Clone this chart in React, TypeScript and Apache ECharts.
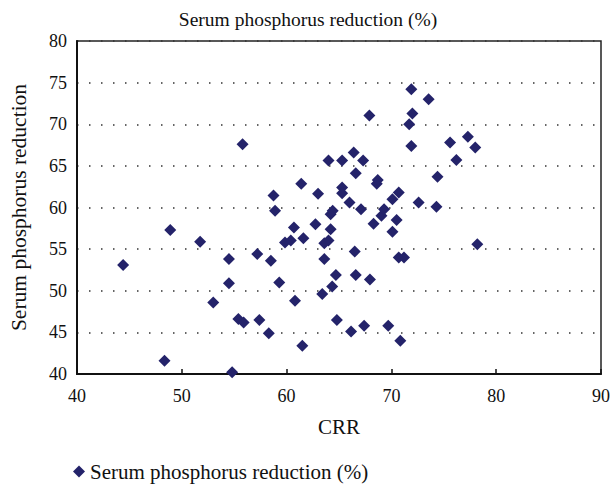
import React, { useEffect, useRef } from "react";
import * as echarts from "echarts";

const seriesName = "Serum phosphorus reduction (%)";
const xAxisName = "CRR";
const yAxisName = "Serum phosphorus reduction";

const crr: number[] = [
  44.4, 48.9, 48.35, 51.75, 53.0, 54.5, 54.5, 55.4, 55.9, 54.8,
  55.8, 57.2, 57.4, 58.3, 58.5, 58.75, 58.9, 59.3, 59.85, 60.4,
  60.7, 60.8, 61.4, 61.5, 61.6, 62.75, 63.0, 63.4, 63.6, 63.6,
  64.0, 64.0, 64.2, 64.4, 64.2, 64.35, 64.7, 64.8, 65.3, 65.3,
  65.3, 66.0, 66.15, 66.5, 66.4, 66.6, 66.6, 67.1, 67.3, 67.4,
  67.9, 67.95, 68.3, 68.6, 68.7, 69.05, 69.3, 69.7, 70.1, 70.1,
  70.5, 70.7, 70.7, 71.2, 70.85, 71.7, 71.9, 71.9, 72.0, 72.6,
  73.55, 74.3, 74.4, 75.6, 76.2, 77.3, 78.0, 78.2,
];

const reduction: number[] = [
  53.1, 57.3, 41.6, 55.9, 48.6, 53.8, 50.9, 46.6, 46.2, 40.2,
  67.6, 54.4, 46.5, 44.9, 53.6, 61.45, 59.6, 51.0, 55.8, 56.05,
  57.6, 48.8, 62.85, 43.4, 56.3, 58.0, 61.65, 49.6, 55.7, 53.8,
  65.65, 56.05, 59.2, 59.6, 57.4, 50.5, 51.9, 46.5, 65.65, 62.4,
  61.7, 60.6, 45.1, 54.7, 66.6, 64.1, 51.9, 59.8, 65.65, 45.8,
  71.05, 51.35, 58.05, 62.85, 63.3, 59.0, 59.8, 45.8, 61.0, 57.1,
  58.5, 61.8, 54.0, 54.0, 44.0, 70.0, 74.2, 67.4, 71.3, 60.6,
  73.0, 60.1, 63.7, 67.8, 65.7, 68.5, 67.2, 55.6,
];

const xTicks = { min: 40, max: 90, interval: 10 };
const yTicks = { min: 40, max: 80, interval: 5 };

const FONT = "'Liberation Serif', 'DejaVu Serif', serif";
const MARK = "#24236a";
const TEXT = "#111";

export default function App() {
  const ref = useRef<HTMLDivElement>(null);
  useEffect(() => {
    if (!ref.current) return;
    const chart = echarts.init(ref.current, undefined, { renderer: "svg" });
    const data = crr.map((x, i) => [x, reduction[i]]);
    chart.setOption({
      animation: false,
      backgroundColor: "#ffffff",
      textStyle: { fontFamily: FONT },
      title: {
        text: seriesName,
        left: "center",
        top: 4,
        textStyle: { fontFamily: FONT, fontSize: 19.5, fontWeight: "normal", color: TEXT },
      },
      legend: {
        left: 68,
        top: 456,
        icon: "diamond",
        itemWidth: 12,
        itemHeight: 12,
        itemGap: 8,
        textStyle: { fontFamily: FONT, fontSize: 21, color: TEXT },
        data: [seriesName],
      },
      grid: {
        left: 72,
        right: 15,
        top: 41,
        bottom: 114,
        show: true,
        borderColor: "#222",
        borderWidth: 1.5,
      },
      xAxis: {
        type: "value",
        min: xTicks.min,
        max: xTicks.max,
        interval: xTicks.interval,
        name: xAxisName,
        nameLocation: "middle",
        nameGap: 42,
        nameTextStyle: { fontFamily: FONT, fontSize: 21, color: TEXT },
        axisLine: { show: true, lineStyle: { color: TEXT, width: 2 } },
        axisTick: { show: true, inside: true, length: 5, lineStyle: { color: TEXT, width: 1.5 } },
        axisLabel: { fontFamily: FONT, fontSize: 18, color: TEXT, margin: 13 },
        splitLine: { show: false },
      },
      yAxis: {
        type: "value",
        min: yTicks.min,
        max: yTicks.max,
        interval: yTicks.interval,
        name: yAxisName,
        nameLocation: "middle",
        nameGap: 47,
        nameTextStyle: { fontFamily: FONT, fontSize: 21.5, color: TEXT },
        axisLine: { show: true, lineStyle: { color: TEXT, width: 2 } },
        axisTick: { show: false },
        axisLabel: { fontFamily: FONT, fontSize: 18, color: TEXT, margin: 10 },
        splitLine: { show: true, lineStyle: { color: "#333", width: 1.5, type: [1.5, 10.5] } },
      },
      series: [
        {
          name: seriesName,
          type: "scatter",
          symbol: "diamond",
          symbolSize: 12,
          itemStyle: { color: MARK, opacity: 1 },
          data,
        },
      ],
    });
    return () => chart.dispose();
  }, []);
  return (
    <div
      ref={ref}
      style={{ position: "absolute", left: 0, top: 0, width: 616, height: 488 }}
    />
  );
}
